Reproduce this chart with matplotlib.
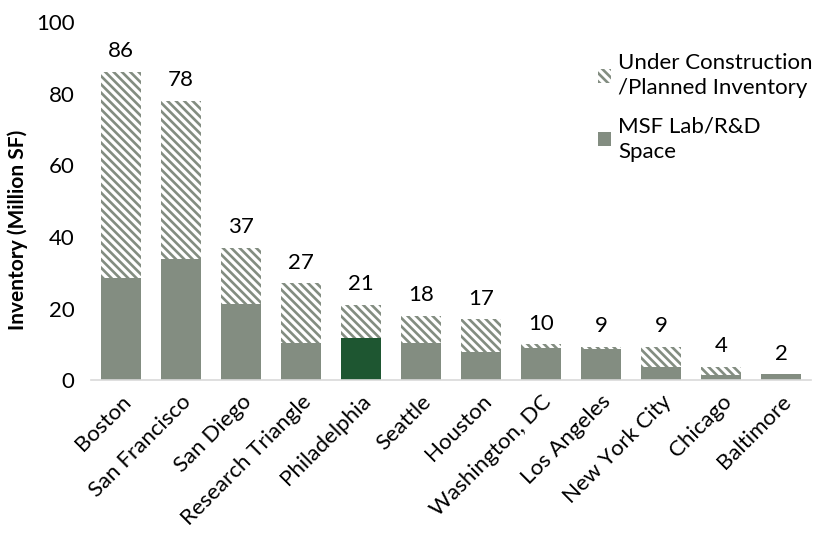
import matplotlib
matplotlib.use("Agg")
import matplotlib.pyplot as plt
from matplotlib.patches import Patch

plt.rcParams['font.family'] = ['Lato', 'DejaVu Sans']
plt.rcParams['hatch.linewidth'] = 1.9

markets = ["Boston", "San Francisco", "San Diego", "Research Triangle", "Philadelphia",
           "Seattle", "Houston", "Washington, DC", "Los Angeles", "New York City",
           "Chicago", "Baltimore"]
lab_space = [28.5, 33.8, 21.2, 10.5, 11.8, 10.5, 8.0, 9.1, 8.7, 3.6, 1.4, 1.6]
totals = [86, 78, 37, 27, 21, 18, 17, 10, 9.2, 9.3, 3.8, 1.6]
total_labels = ["86", "78", "37", "27", "21", "18", "17", "10", "9", "9", "4", "2"]

base_color = "#838D81"
highlight = "#1E5631"
colors = [highlight if m == "Philadelphia" else base_color for m in markets]
pipeline = [t - b for t, b in zip(totals, lab_space)]
hatch = "\\" * 4

fig = plt.figure(figsize=(8.2, 5.34), dpi=100)
ax = fig.add_axes([0.111, 0.288, 0.878, 0.671])

x = range(len(markets))
ax.bar(x, lab_space, width=0.67, color=colors, edgecolor="none")
ax.bar(x, pipeline, width=0.67, bottom=lab_space, color="white",
       edgecolor=base_color, hatch=hatch, linewidth=0)

for i, (t, lab) in enumerate(zip(totals, total_labels)):
    ax.text(i, t + 3, lab, ha="center", va="bottom", fontsize=16)

ax.set_xlim(-0.5, len(markets) - 0.5)
ax.set_ylim(0, 100)
ax.set_yticks(range(0, 101, 20))
ax.set_xticks(list(x))
ax.set_xticklabels(markets, rotation=45, ha="right", rotation_mode="anchor", fontsize=16)
ax.tick_params(axis="y", length=0, labelsize=16, pad=12)
ax.tick_params(axis="x", length=0, pad=8)
for s in ["top", "right", "left"]:
    ax.spines[s].set_visible(False)
ax.spines["bottom"].set_color("#D9D9D9")
ax.spines["bottom"].set_linewidth(1.2)
ax.set_ylabel("Inventory (Million SF)", fontsize=15, fontweight="bold")
ax.yaxis.set_label_coords(-0.088, 0.42)

handles = [Patch(facecolor="white", edgecolor=base_color, hatch=hatch, linewidth=0,
                 label="Under Construction\n/Planned Inventory"),
           Patch(facecolor=base_color, edgecolor="none", label="MSF Lab/R&D\nSpace")]
leg = ax.legend(handles=handles, loc="upper right", bbox_to_anchor=(1.03, 0.97), frameon=False,
                fontsize=16, handlelength=0.6, handleheight=0.6, handletextpad=0.3,
                labelspacing=0.8)
for t in leg.get_texts():
    t.set_linespacing(1.35)

fig.savefig("out.png", dpi=100)
